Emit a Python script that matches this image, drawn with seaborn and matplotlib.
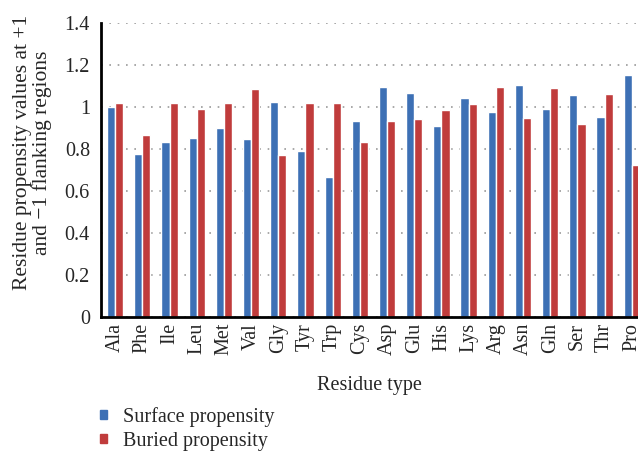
import matplotlib
matplotlib.use("Agg")
import matplotlib.pyplot as plt
import seaborn as sns
import pandas as pd
from matplotlib.patches import Patch

residues = ["Ala", "Phe", "Ile", "Leu", "Met", "Val", "Gly", "Tyr", "Trp", "Cys",
            "Asp", "Glu", "His", "Lys", "Arg", "Asn", "Gln", "Ser", "Thr", "Pro"]
surface = [1.00, 0.78, 0.833, 0.852, 0.901, 0.849, 1.025, 0.792, 0.668, 0.935,
           1.098, 1.070, 0.912, 1.043, 0.976, 1.105, 0.994, 1.060, 0.952, 1.152]
buried = [1.019, 0.868, 1.022, 0.990, 1.019, 1.089, 0.771, 1.022, 1.019, 0.833,
          0.933, 0.943, 0.986, 1.014, 1.098, 0.948, 1.090, 0.920, 1.063, 0.724]
series_names = ["Surface propensity", "Buried propensity"]
yticks = [0, 0.2, 0.4, 0.6, 0.8, 1.0, 1.2, 1.4]
ytick_labels = ["0", "0.2", "0.4", "0.6", "0.8", "1", "1.2", "1.4"]

df = pd.DataFrame({
    "Residue": residues * 2,
    "Value": surface + buried,
    "Series": [series_names[0]] * len(residues) + [series_names[1]] * len(residues),
})

sns.set_style("white")
plt.rcParams["font.family"] = ["Liberation Serif", "DejaVu Serif"]

fig = plt.figure(figsize=(6.38, 4.54), dpi=100)
ax = fig.add_axes([101 / 638, 1 - 317.3 / 454, 1 - 101 / 638, 294 / 454])

colors = ["#3d70b5", "#c03c3c"]
sns.barplot(data=df, x="Residue", y="Value", hue="Series", palette=colors,
            width=0.6, gap=0, saturation=1, ax=ax, legend=False, zorder=3)

ax.set_ylim(0, 1.4)
ax.set_xlim(-0.52, (638 - 115) / 27.2)
ax.set_yticks(yticks)
ax.set_yticklabels(ytick_labels, fontsize=14.5)
ax.tick_params(axis="x", labelrotation=90, labelsize=14.5, length=0, pad=4)
ax.tick_params(axis="y", length=0, pad=8)
ax.yaxis.grid(True, linestyle=(0, (1, 4)), color="#9a9a9a", linewidth=1.2, zorder=0)
ax.set_axisbelow(True)
for side in ["top", "right"]:
    ax.spines[side].set_visible(False)
for side in ["left", "bottom"]:
    ax.spines[side].set_linewidth(2)
    ax.spines[side].set_color("black")
    ax.spines[side].set_zorder(5)

ax.set_xlabel("Residue type", fontsize=14.5, labelpad=15)
ax.set_ylabel("Residue propensity values at +1\nand \u22121 flanking regions",
              fontsize=15.5, linespacing=0.95)
ax.yaxis.set_label_coords(-0.092, 0.56)

handles = [Patch(facecolor=c, edgecolor=c) for c in colors]
fig.legend(handles, series_names, loc="upper left", bbox_to_anchor=(100 / 638, 1 - 407 / 454),
           frameon=False, fontsize=14.5, handlelength=0.35, handleheight=0.35,
           handletextpad=0.8, labelspacing=0.25, borderaxespad=0, borderpad=0)

fig.savefig("out.png", dpi=100)
